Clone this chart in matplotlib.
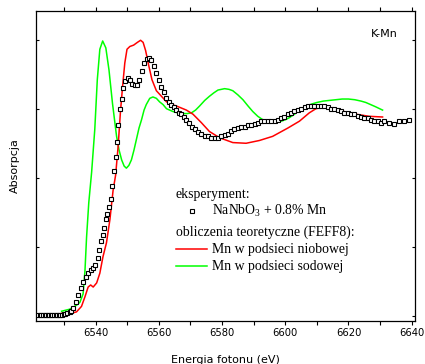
import matplotlib
matplotlib.use('Agg')
import matplotlib.pyplot as plt
from matplotlib.lines import Line2D
from matplotlib.ticker import MultipleLocator, NullFormatter

plt.rcParams['mathtext.fontset'] = 'custom'
plt.rcParams['mathtext.rm'] = 'Liberation Serif'

# Experiment: NaNbO3 + 0.8% Mn (energy in eV, absorption in arbitrary units)
exp_E = [6521.8, 6522.3, 6522.8, 6523.3, 6523.8, 6524.3, 6524.8, 6525.3, 6525.8,
         6526.3, 6526.8, 6527.3, 6527.8, 6528.3, 6528.8, 6529.3, 6529.8,
         6530.3, 6531.0, 6531.8, 6532.3, 6532.9, 6533.7, 6534.5, 6535.3, 6536.1,
         6536.9, 6537.6, 6538.4, 6539.2, 6539.9, 6540.6, 6541.1, 6541.6, 6542.2,
         6542.7, 6543.2, 6543.7, 6544.3, 6544.8, 6545.3, 6545.7, 6546.3, 6546.7,
         6547.2, 6547.7, 6548.3, 6548.7, 6549.3, 6550.1, 6550.8, 6551.6, 6552.4,
         6553.1, 6553.7, 6554.5, 6555.2, 6556.1, 6556.9, 6557.6, 6558.4, 6559.2,
         6560.1, 6560.8, 6561.6, 6562.4, 6563.2, 6563.9, 6564.7, 6565.5, 6566.4,
         6567.1, 6567.9, 6568.7, 6569.5, 6570.4, 6571.3, 6572.4, 6573.4, 6574.5,
         6575.5, 6576.6, 6577.6, 6578.7, 6579.7, 6580.8, 6581.8, 6582.9, 6583.9,
         6585.0, 6586.1, 6587.1, 6588.2, 6589.2, 6590.3, 6591.3, 6592.4, 6593.4,
         6594.5, 6595.5, 6596.6, 6597.6, 6598.7, 6599.7, 6600.8, 6601.8, 6602.9,
         6603.9, 6605.0, 6606.1, 6607.1, 6608.2, 6609.2, 6610.3, 6611.3, 6612.4,
         6613.4, 6614.5, 6615.5, 6616.6, 6617.6, 6618.7, 6619.7, 6620.8, 6621.8,
         6622.9, 6623.9, 6625.0, 6626.1, 6627.1, 6628.2, 6629.2, 6630.3, 6631.3,
         6632.7, 6634.3, 6635.9, 6637.5, 6639.3]
exp_A = [0.005, 0.005, 0.005, 0.005, 0.005, 0.005, 0.005, 0.005, 0.006,
         0.006, 0.006, 0.007, 0.007, 0.008, 0.009, 0.010, 0.013,
         0.018, 0.024, 0.030, 0.040, 0.056, 0.10, 0.15, 0.20, 0.25,
         0.285, 0.31, 0.33, 0.345, 0.37, 0.42, 0.48, 0.54, 0.59,
         0.635, 0.70, 0.74, 0.79, 0.85, 0.94, 1.05, 1.15, 1.26,
         1.38, 1.50, 1.57, 1.65, 1.70, 1.72, 1.71, 1.68, 1.67,
         1.67, 1.71, 1.77, 1.83, 1.86, 1.87, 1.85, 1.81, 1.76,
         1.71, 1.66, 1.62, 1.58, 1.55, 1.53, 1.51, 1.49, 1.47,
         1.46, 1.44, 1.42, 1.40, 1.37, 1.35, 1.33, 1.32, 1.30,
         1.30, 1.29, 1.29, 1.29, 1.30, 1.31, 1.32, 1.34, 1.35,
         1.36, 1.37, 1.37, 1.38, 1.38, 1.39, 1.40, 1.41, 1.41,
         1.41, 1.41, 1.41, 1.42, 1.43, 1.44, 1.46, 1.47, 1.48,
         1.49, 1.50, 1.51, 1.52, 1.52, 1.52, 1.52, 1.52, 1.52,
         1.51, 1.50, 1.50, 1.49, 1.48, 1.47, 1.47, 1.46, 1.46,
         1.45, 1.44, 1.43, 1.43, 1.42, 1.41, 1.41, 1.40, 1.41,
         1.40, 1.39, 1.41, 1.41, 1.42]

# FEFF8: Mn in niobium sublattice (red)
nb_E = [6529.2, 6531.8, 6533.9, 6535.5, 6536.6, 6537.6, 6538.4, 6539.2, 6540.3,
        6541.3, 6542.3, 6543.4, 6544.5, 6545.5, 6546.3, 6547.1, 6547.8, 6548.5,
        6549.2, 6549.9, 6550.8, 6552.0, 6553.2, 6554.2, 6555.0, 6555.8, 6556.8,
        6557.8, 6559.2, 6560.8, 6562.4, 6564.0, 6565.5, 6567.1, 6568.7, 6570.8,
        6573.4, 6576.0, 6579.2, 6583.4, 6587.6, 6591.8, 6596.0, 6600.8, 6604.5,
        6607.6, 6609.7, 6611.8, 6614.0, 6617.1, 6620.0, 6622.4, 6626.6, 6630.8]
nb_A = [0.020, 0.018, 0.030, 0.07, 0.14, 0.21, 0.225, 0.21, 0.24,
        0.31, 0.43, 0.53, 0.70, 0.91, 1.02, 1.23, 1.47, 1.66,
        1.83, 1.93, 1.95, 1.96, 1.98, 1.995, 1.98, 1.92, 1.81,
        1.71, 1.63, 1.59, 1.55, 1.53, 1.52, 1.505, 1.49, 1.46,
        1.40, 1.335, 1.29, 1.255, 1.25, 1.27, 1.30, 1.36, 1.41,
        1.47, 1.50, 1.51, 1.505, 1.49, 1.47, 1.46, 1.445, 1.44]

# FEFF8: Mn in sodium sublattice (green)
na_E = [6529.2, 6531.8, 6534.0, 6535.0, 6536.0, 6536.6, 6537.1, 6537.8, 6538.7,
        6539.7, 6540.5, 6541.3, 6542.2, 6543.2, 6544.2, 6545.3, 6546.6, 6547.4,
        6548.2, 6549.0, 6549.7, 6550.5, 6551.3, 6552.1, 6552.9, 6553.7, 6554.5,
        6555.3, 6556.0, 6557.1, 6558.1, 6559.2, 6560.2, 6561.3, 6562.4, 6564.4,
        6566.0, 6567.6, 6569.0, 6570.3, 6571.6, 6572.9, 6574.5, 6576.0, 6577.4,
        6578.7, 6580.8, 6582.2, 6583.4, 6585.0, 6586.6, 6588.2, 6589.7, 6591.3,
        6592.9, 6594.5, 6596.0, 6597.4, 6598.7, 6600.0, 6601.3, 6602.6, 6604.0,
        6605.5, 6607.0, 6608.5, 6610.0, 6612.0, 6614.0, 6616.0, 6618.0, 6620.0,
        6622.0, 6624.0, 6625.5, 6627.0, 6628.5, 6630.8]
na_A = [0.035, 0.05, 0.08, 0.10, 0.16, 0.33, 0.57, 0.82, 1.04,
        1.35, 1.71, 1.93, 1.99, 1.94, 1.78, 1.54, 1.30, 1.20,
        1.13, 1.085, 1.07, 1.09, 1.13, 1.20, 1.28, 1.36, 1.42,
        1.49, 1.53, 1.575, 1.585, 1.575, 1.55, 1.53, 1.50, 1.48,
        1.47, 1.465, 1.465, 1.47, 1.49, 1.52, 1.56, 1.59, 1.615,
        1.635, 1.645, 1.64, 1.63, 1.60, 1.565, 1.52, 1.48, 1.445,
        1.42, 1.405, 1.40, 1.40, 1.41, 1.42, 1.435, 1.455, 1.48,
        1.50, 1.52, 1.535, 1.545, 1.555, 1.56, 1.565, 1.57, 1.57,
        1.565, 1.555, 1.545, 1.53, 1.515, 1.49]

RED = '#ff0000'
GREEN = '#00ff00'


def main():
    fig = plt.figure(figsize=(4.25, 3.64), dpi=100)
    ax = fig.add_axes([0.084, 0.118, 0.892, 0.853])

    ax.plot(na_E, na_A, color=GREEN, linewidth=1.1, zorder=2)
    ax.plot(nb_E, nb_A, color=RED, linewidth=1.1, zorder=3)
    ax.plot(exp_E, exp_A, linestyle='none', marker='s', markersize=3.4,
            markerfacecolor='white', markeredgecolor='black',
            markeredgewidth=0.8, zorder=4)

    ax.set_xlim(6521, 6641)
    ax.set_ylim(-0.036, 2.21)

    ax.xaxis.set_major_locator(MultipleLocator(20))
    ax.xaxis.set_minor_locator(MultipleLocator(10))
    ax.yaxis.set_major_locator(MultipleLocator(0.5))
    ax.yaxis.set_major_formatter(NullFormatter())
    ax.tick_params(axis='x', which='both', direction='out', length=3,
                   width=0.8, labelsize=7.2, pad=2)
    ax.tick_params(axis='y', which='both', direction='in', length=2,
                   width=0.8, right=True)
    ax.tick_params(axis='x', which='both', top=True)
    for spine in ax.spines.values():
        spine.set_linewidth(0.9)

    ax.set_xlabel('Energia fotonu (eV)', fontsize=8, labelpad=12)
    ax.set_ylabel('Absorpcja', fontsize=8, labelpad=8)

    ax.text(0.955, 0.925, 'K-Mn', transform=ax.transAxes, ha='right',
            va='center', fontsize=8)

    # hand-made legend
    serif = dict(family='Liberation Serif', fontsize=9.9, va='center',
                 transform=ax.transAxes)
    ax.text(0.370, 0.409, 'eksperyment:', **serif)
    ax.add_line(Line2D([0.412], [0.354], transform=ax.transAxes, marker='s',
                       markersize=3.4, markerfacecolor='white',
                       markeredgecolor='black', markeredgewidth=0.8))
    ax.text(0.465, 0.354, r'NaNbO$\mathregular{_3}$ + 0.8% Mn', **serif)
    ax.text(0.370, 0.287, 'obliczenia teoretyczne (FEFF8):', **serif)
    ax.add_line(Line2D([0.370, 0.452], [0.232, 0.232], transform=ax.transAxes,
                       color=RED, linewidth=1.1))
    ax.text(0.465, 0.232, 'Mn w podsieci niobowej', **serif)
    ax.add_line(Line2D([0.370, 0.452], [0.177, 0.177], transform=ax.transAxes,
                       color=GREEN, linewidth=1.1))
    ax.text(0.465, 0.177, 'Mn w podsieci sodowej', **serif)

    fig.savefig('out.png', dpi=100, facecolor='white')


if __name__ == '__main__':
    main()
